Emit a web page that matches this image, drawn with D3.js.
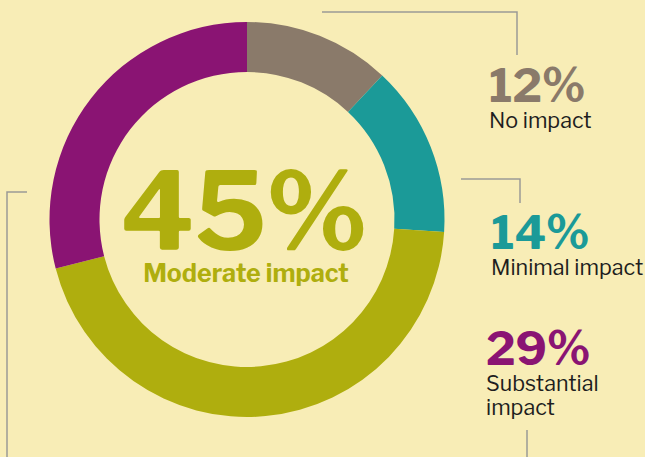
<!DOCTYPE html>
<html>
<head>
<meta charset="utf-8">
<script src="https://cdn.jsdelivr.net/npm/d3@7"></script>
<style>
  html, body { margin: 0; padding: 0; background: #F8EDB6; }
  svg { display: block; }
</style>
</head>
<body>
<svg width="645" height="457"></svg>
<script>
// data
var categories = ["No impact", "Minimal impact", "Moderate impact", "Substantial impact"];
var values = [12, 14, 45, 29];
var colors = ["#8A7A6A", "#1B9A98", "#AFAE0E", "#8A1473"];

var svg = d3.select("svg"),
    width = +svg.attr("width"),
    height = +svg.attr("height"),
    center = { x: 247, y: 219.5 },
    outerR = 197.5,
    innerR = 147.5;

svg.append("rect").attr("width", width).attr("height", height).attr("fill", "#F8EDB6");

var pie = d3.pie().sort(null).value(function(d) { return d; });
var arc = d3.arc().innerRadius(innerR).outerRadius(outerR);
var color = d3.scaleOrdinal().domain(categories).range(colors);

var g = svg.append("g").attr("transform", "translate(" + center.x + "," + center.y + ")");
g.selectAll("path")
  .data(pie(values))
  .enter()
  .append("path")
  .attr("d", arc)
  .attr("fill", function(d, i) { return color(categories[i]); });

// leader lines
var lines = [
  [[322, 12], [517, 12], [517, 55]],
  [[461, 179], [520, 179], [520, 203]],
  [[527, 430], [527, 457]],
  [[27, 192], [7, 192], [7, 457]]
];
var line = d3.line();
lines.forEach(function(pts) {
  svg.append("path")
    .attr("d", line(pts))
    .attr("fill", "none")
    .attr("stroke", "#9A9A96")
    .attr("stroke-width", 1.5);
});

var font = "'Libre Franklin', Roboto, 'Liberation Sans', sans-serif";

// center label
svg.append("text")
  .attr("x", 244).attr("y", 250)
  .attr("text-anchor", "middle")
  .style("font-family", font)
  .style("font-weight", 700)
  .style("font-size", "107px")
  .attr("fill", colors[2])
  .text(values[2] + "%");
svg.append("text")
  .attr("x", 246).attr("y", 282)
  .attr("text-anchor", "middle")
  .style("font-family", font)
  .style("font-weight", 700)
  .style("font-size", "25px")
  .attr("fill", colors[2])
  .text(categories[2]);

// side labels
var side = [
  { i: 0, x: 489, y: 102, lines: ["No impact"] },
  { i: 1, x: 491, y: 249, lines: ["Minimal impact"] },
  { i: 3, x: 486, y: 365, lines: ["Substantial", "impact"] }
];
side.forEach(function(s) {
  svg.append("text")
    .attr("x", s.x).attr("y", s.y)
    .style("font-family", font)
    .style("font-weight", 700)
    .style("font-size", "46px")
    .attr("fill", colors[s.i])
    .text(values[s.i] + "%");
  s.lines.forEach(function(t, k) {
    svg.append("text")
      .attr("x", s.x).attr("y", s.y + 26 + k * 24)
      .style("font-family", font)
      .style("font-size", "21.5px")
      .attr("fill", "#1E1E1E")
      .text(t);
  });
});
</script>
</body>
</html>
